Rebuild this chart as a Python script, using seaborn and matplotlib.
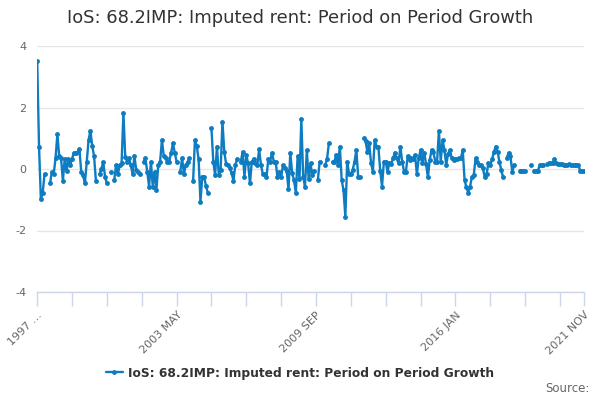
import numpy as np
import pandas as pd
import matplotlib
matplotlib.use("Agg")
import matplotlib.pyplot as plt
import seaborn as sns
from matplotlib.lines import Line2D

nan = np.nan

# months shown on the category axis, 1997 JAN .. 2021 NOV
start_month = "1997-01"
end_month = "2021-11"

# period on period growth (%), one value per month
growth = [
    3.52, 0.72, -0.98, -0.77, -0.16, nan, nan, -0.47, -0.09, -0.16,
    0.35, 1.13, 0.42, 0.35, -0.38, 0.33, -0.08, 0.33, 0.13, 0.33,
    0.53, 0.53, 0.55, 0.65, -0.09, -0.2, -0.47, 0.22, 0.94, 1.25,
    0.75, 0.42, -0.38, nan, -0.16, 0.0, 0.22, -0.25, -0.47, nan,
    -0.09, nan, -0.36, 0.13, -0.16, 0.13, 0.18, 1.81, 0.40, 0.24,
    0.35, 0.13, -0.16, 0.42, -0.03, -0.09, -0.16, nan, 0.24, 0.35,
    -0.09, -0.57, 0.24, -0.57, -0.09, -0.68, 0.13, 0.24, 0.94, 0.42,
    0.35, 0.24, 0.24, 0.53, 0.83, 0.53, 0.24, nan, -0.09, 0.35,
    -0.16, 0.13, 0.22, 0.35, nan, -0.38, 0.94, 0.75, 0.31, -1.06,
    -0.25, -0.25, -0.55, -0.77, nan, 1.32, 0.24, -0.2, 0.73, -0.2,
    -0.03, 1.54, 0.56, 0.16, 0.13, 0.02, -0.14, -0.38, 0.13, 0.31,
    nan, 0.24, 0.56, -0.25, 0.45, 0.18, -0.47, 0.24, 0.33, 0.18,
    0.13, 0.64, 0.13, -0.16, -0.16, -0.27, 0.33, 0.24, 0.53, 0.24,
    0.24, -0.27, -0.09, -0.27, 0.13, 0.02, -0.05, -0.66, 0.53, -0.14,
    -0.36, -0.77, 0.42, -0.34, 1.62, -0.25, -0.57, 0.62, -0.34, 0.18,
    -0.2, -0.05, nan, -0.36, 0.24, nan, nan, 0.13, 0.31, 0.83,
    nan, 0.24, 0.24, 0.45, 0.13, 0.73, -0.36, -0.69, -1.55, 0.24,
    -0.16, -0.16, -0.03, 0.24, 0.62, -0.25, -0.27, nan, 1.0, 0.92,
    0.56, 0.83, 0.2, -0.09, 0.94, 0.73, 0.73, -0.05, -0.57, 0.24,
    0.24, -0.09, 0.21, 0.16, 0.35, 0.53, 0.35, 0.18, 0.73, 0.24,
    -0.09, -0.09, 0.42, 0.29, 0.35, 0.31, 0.45, -0.16, 0.35, 0.62,
    0.18, 0.53, 0.16, -0.27, 0.29, 0.62, 0.56, 0.24, 0.24, 1.24,
    0.24, 0.94, 0.62, 0.13, 0.49, 0.62, 0.35, 0.29, 0.31, 0.31,
    0.35, 0.35, 0.62, -0.36, -0.6, -0.77, -0.57, -0.25, -0.2, 0.35,
    0.24, 0.13, 0.13, 0.02, -0.27, -0.16, 0.18, 0.13, 0.31, 0.56,
    0.73, 0.56, 0.24, -0.03, -0.27, nan, 0.35, 0.53, 0.42, -0.09,
    0.13, nan, nan, -0.08, -0.08, -0.08, -0.08, nan, nan, 0.13,
    nan, -0.05, -0.05, -0.05, 0.13, 0.13, 0.13, nan, 0.15, 0.18,
    0.18, 0.2, 0.31, 0.18, 0.15, 0.15, 0.15, 0.13, 0.13, 0.13,
    0.15, 0.13, 0.13, 0.13, 0.13, 0.13, -0.05, -0.08, -0.08,
]

series_name = "IoS: 68.2IMP: Imputed rent: Period on Period Growth"
y_ticks = [-4, -2, 0, 2, 4]

months = pd.period_range(start_month, end_month, freq="M")
month_labels = [f"{p.year} {p.strftime('%b').upper()}" for p in months]

df = pd.DataFrame({"pos": np.arange(len(growth)), "value": growth, "month": month_labels})
# split at missing months so the line breaks there
df["seg"] = df["value"].isna().cumsum()
df = df.dropna(subset=["value"])

blue = "#0d7cc1"

sns.set_theme(style="white")
plt.rcParams["font.family"] = ["DejaVu Sans"]

fig = plt.figure(figsize=(6, 4), dpi=100)
ax = fig.add_axes([0.062, 0.27, 0.911, 0.615])

sns.lineplot(data=df, x="pos", y="value", units="seg", estimator=None,
             color=blue, linewidth=1.7, marker="o", markersize=3.5,
             markeredgewidth=0, ax=ax, legend=False)

ax.set_xlim(0, len(growth) - 1)
ax.set_ylim(-4, 4)
ax.set_yticks(y_ticks)
ax.set_yticklabels([str(t) for t in y_ticks], color="#666666", fontsize=8)
ax.yaxis.grid(True, color="#e6e6e6", linewidth=1)
ax.set_axisbelow(True)

n = len(growth)
tick_pos = list(range(0, n, 19)) + [n - 1]
label_pos = [0, 76, 152, 228, n - 1]
labels = []
for p in tick_pos:
    if p == 0:
        labels.append(month_labels[0][:4] + " …")
    elif p in label_pos:
        labels.append(month_labels[p])
    else:
        labels.append("")
ax.set_xticks(tick_pos)
ax.set_xticklabels(labels, rotation=45, ha="right", rotation_mode="anchor",
                   color="#666666", fontsize=8)
ax.tick_params(axis="x", length=10, width=1, color="#ccd6eb", pad=3, bottom=True)
ax.tick_params(axis="y", length=0, pad=8)

for side in ["top", "right", "left"]:
    ax.spines[side].set_visible(False)
ax.spines["bottom"].set_color("#ccd6eb")
ax.spines["bottom"].set_linewidth(1)
ax.set_xlabel("")
ax.set_ylabel("")

fig.text(0.5, 0.955, series_name, ha="center", va="center",
         fontsize=12.9, color="#333333")

handle = Line2D([], [], color=blue, linewidth=1.7, marker="o", markersize=3.5,
                markeredgewidth=0)
leg = fig.legend([handle], [series_name], loc="center", bbox_to_anchor=(0.5, 0.067),
                 frameon=False, handlelength=1.4, handletextpad=0.4,
                 prop={"size": 8.8, "weight": "bold"})
for t in leg.get_texts():
    t.set_color("#333333")

fig.text(0.983, 0.03, "Source:", ha="right", va="center", fontsize=8.5, color="#666666")

fig.savefig("out.png", dpi=100)
plt.close(fig)
